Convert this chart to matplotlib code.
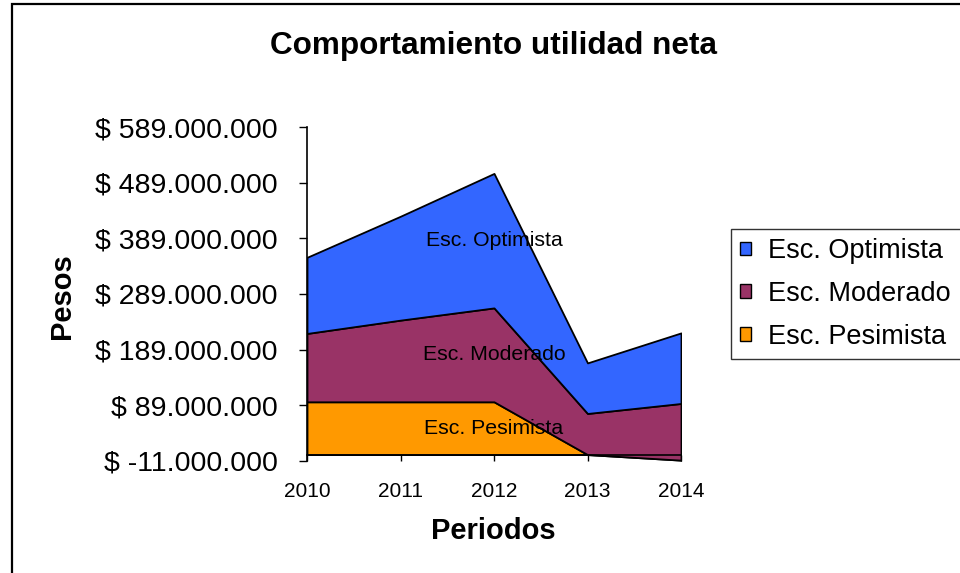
import matplotlib
matplotlib.use('Agg')
import matplotlib.pyplot as plt
import numpy as np
from matplotlib.patches import Rectangle, Patch
from matplotlib.ticker import FuncFormatter

plt.rcParams['font.family'] = ['Liberation Sans', 'DejaVu Sans']

years = ['2010', '2011', '2012', '2013', '2014']
series_names = ['Esc. Pesimista', 'Esc. Moderado', 'Esc. Optimista']
# stacked components (pesos)
pesimista = [95e6, 95e6, 95e6, 0, -10e6]
moderado = [123e6, 147e6, 169e6, 74e6, 102e6]
optimista = [137e6, 187e6, 242e6, 91e6, 127e6]
colors = ['#FF9900', '#993366', '#3366FF']
yticks = [-11e6, 89e6, 189e6, 289e6, 389e6, 489e6, 589e6]

W, H = 960, 573
fig = plt.figure(figsize=(W / 100, H / 100), dpi=100)

# outer chart border (left/top visible)
fig.patches.append(Rectangle((11.5 / W, -0.05), 1.2, 1 - 3.5 / H + 0.05, transform=fig.transFigure,
                             fill=False, edgecolor='black', linewidth=1.6, zorder=0))

ax = fig.add_axes([307 / W, 1 - 460.7 / H, 374 / W, 333.4 / H])
x = np.arange(len(years))
data = [pesimista, moderado, optimista]
ax.stackplot(x, data, colors=colors, edgecolor='black', linewidth=1.3, zorder=2)

ax.set_xlim(0, len(years) - 1)
ax.set_ylim(yticks[0], yticks[-1])
ax.set_yticks(yticks)
ax.yaxis.set_major_formatter(FuncFormatter(
    lambda v, p: '$ ' + ('-' if v < 0 else '') + f"{abs(int(round(v))):,}".replace(',', '.')))
ax.set_xticks(x)
ax.set_xticklabels(years)

for s in ['top', 'right']:
    ax.spines[s].set_visible(False)
ax.spines['bottom'].set_position(('data', 0))
ax.spines['bottom'].set_zorder(5)
ax.spines['left'].set_linewidth(1.2)
ax.spines['bottom'].set_linewidth(1.2)
ax.tick_params(axis='y', direction='out', length=6, width=1, pad=15, labelsize=20.5, colors='black')
ax.tick_params(axis='x', direction='out', length=4.5, width=1, pad=15, labelsize=15)
ax.patch.set_visible(False)

# band labels at 2012
cum = np.cumsum(np.array(data), axis=0)
base = np.vstack([np.zeros(len(years)), cum[:-1]])
idx = 2
for i, name in enumerate(series_names):
    ymid = (base[i, idx] + cum[i, idx]) / 2
    ax.text(x[idx], ymid, name, ha='center', va='center', fontsize=15.3, zorder=6)

fig.text(493 / W, 1 - 46 / H, 'Comportamiento utilidad neta', ha='center', va='center',
         fontsize=22.7, fontweight='bold')
fig.text(493 / W, 1 - 531 / H, 'Periodos', ha='center', va='center', fontsize=21, fontweight='bold')
fig.text(62 / W, 1 - 296 / H, 'Pesos', ha='center', va='center', rotation=90, fontsize=21,
         fontweight='bold')

handles = [Patch(facecolor=colors[i], edgecolor='black', linewidth=1) for i in [2, 1, 0]]
labels = [series_names[i] for i in [2, 1, 0]]
leg = fig.legend(handles, labels, loc='upper left',
                 bbox_to_anchor=(731 / W, 0, 0.3, 1 - 229 / H), mode='expand',
                 frameon=True, fancybox=False, shadow=False, fontsize=19.5,
                 handlelength=0.4, handleheight=0.4, handletextpad=0.62, labelspacing=0.62,
                 borderpad=0.34, borderaxespad=0)
leg.get_frame().set_edgecolor('black')
leg.get_frame().set_linewidth(1)

fig.savefig('out.png', dpi=100)
